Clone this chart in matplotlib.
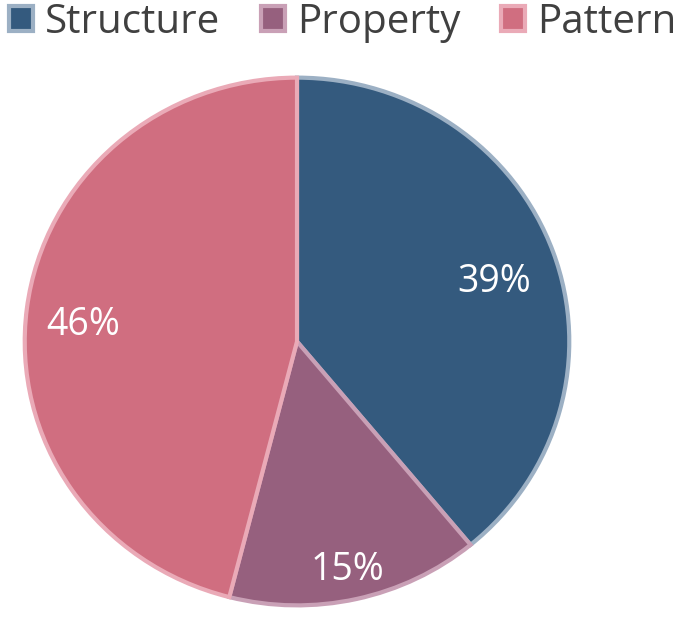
import matplotlib.pyplot as plt
import numpy as np

# data
labels = ['Structure', 'Property', 'Pattern']
shares = [39, 15, 46]
colors = ['#345a7e', '#96607e', '#d06e80']
edge_colors = ['#9cb0c4', '#c9a0b6', '#eaaab7']
label_dist = [0.77, 0.85, 0.79]

plt.rcParams['font.family'] = ['Open Sans', 'DejaVu Sans']

fig = plt.figure(figsize=(6.85, 6.19), dpi=100)
ax = fig.add_axes([22 / 685, 11 / 619, 550 / 685, 533 / 619])

wedges, _ = ax.pie(shares, colors=colors, startangle=90, counterclock=False,
                   radius=1.0, wedgeprops=dict(linewidth=3))
for w, ec in zip(wedges, edge_colors):
    w.set_edgecolor(ec)

# percentage labels
for w, v, d in zip(wedges, shares, label_dist):
    mid = np.deg2rad((w.theta1 + w.theta2) / 2)
    ax.annotate('%d%%' % v, (d * np.cos(mid), d * np.sin(mid)),
                xytext=(0, -5), textcoords='offset pixels', color='white',
                fontsize=27, ha='center', va='center_baseline')

ax.set_aspect('auto')
ax.set_xlim(-1.01, 1.01)
ax.set_ylim(-1.01, 1.01)
ax.axis('off')

leg = fig.legend(wedges, labels, loc='upper center', ncol=3,
                 bbox_to_anchor=(0.5, 1.055), frameon=False, fontsize=29,
                 handlelength=0.6, handleheight=0.6, handletextpad=0.3,
                 columnspacing=1.0, labelcolor='#404040')

fig.savefig('out.png', dpi=100)
